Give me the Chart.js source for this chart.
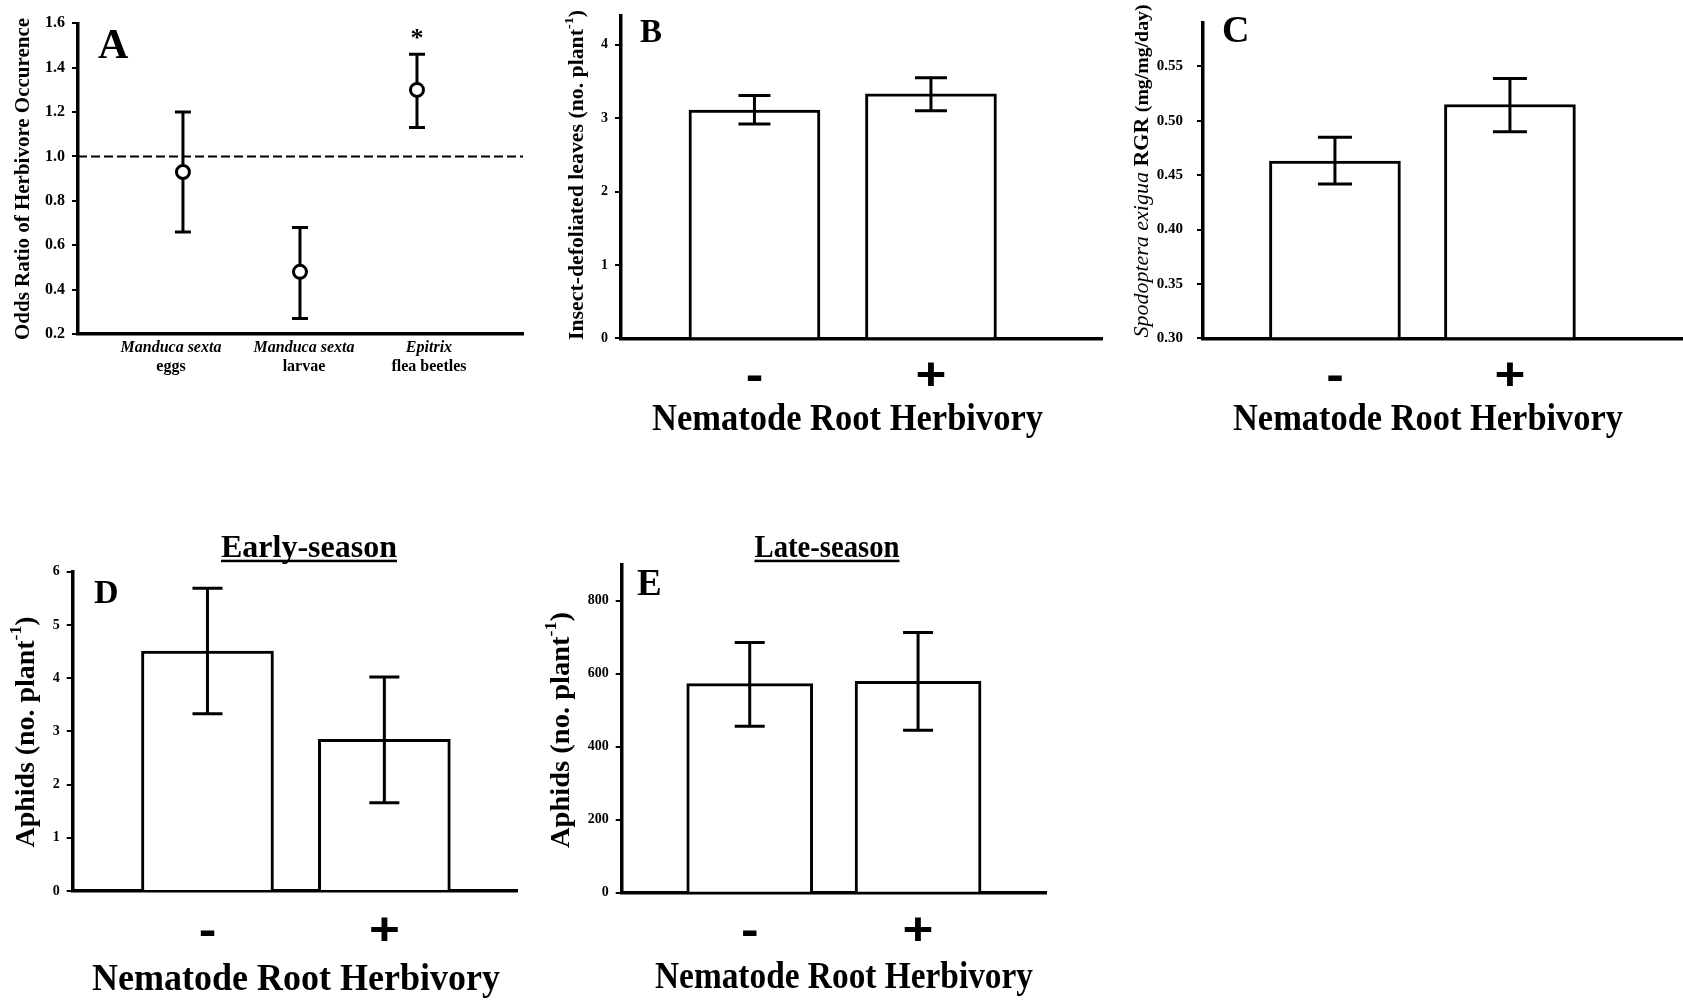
<!DOCTYPE html>
<html>
<head>
<meta charset="utf-8">
<title>Herbivory panels</title>
<script src="https://cdn.jsdelivr.net/npm/chart.js@4.4.1/dist/chart.umd.min.js"></script>
<style>
  html, body { margin: 0; padding: 0; background: #fff; }
  body { width: 1683px; height: 1001px; position: relative; overflow: hidden; }
  canvas { position: absolute; }
</style>
</head>
<body>
<canvas id="panelA" width="540" height="400" style="left:0px;top:0px"></canvas>
<canvas id="panelB" width="575" height="460" style="left:540px;top:0px"></canvas>
<canvas id="panelC" width="568" height="460" style="left:1115px;top:0px"></canvas>
<canvas id="panelD" width="540" height="521" style="left:0px;top:480px"></canvas>
<canvas id="panelE" width="560" height="521" style="left:540px;top:480px"></canvas>
<script>
// A: odds ratio of herbivore occurrence (with 95% limits)
var aGroups = [['Manduca sexta', 'eggs'], ['Manduca sexta', 'larvae'], ['Epitrix', 'flea beetles']];
var aOdds = [0.93, 0.48, 1.30];
var aUpper = [1.20, 0.68, 1.46];
var aLower = [0.66, 0.27, 1.13];
var aSig = ['', '', '*'];
var aNoEffect = 1.0;

// B-E: nematode root herbivory absent / present
var nematode = ['-', '+'];
var bLeaves = [3.11, 3.33];
var bUpper = [3.31, 3.55];
var bLower = [2.92, 3.10];

var cRGR = [0.463, 0.515];
var cUpper = [0.485, 0.539];
var cLower = [0.442, 0.490];

var dAphids = [4.51, 2.85];
var dUpper = [5.69, 4.02];
var dLower = [3.33, 1.66];

var eAphids = [573, 579];
var eUpper = [686, 713];
var eLower = [456, 445];

var SERIF = '"Liberation Serif", "Times New Roman", serif';
var SANS = '"Liberation Sans", Arial, sans-serif';

function font(size, style) {
	return (style || 'bold') + ' ' + size + 'px ' + SERIF;
}

//draw a row of text runs (mixed fonts, superscripts), optionally rotated
function drawRuns(ctx, runs, x, y, o) {
	o = o || {};
	ctx.save();
	ctx.translate(x, y);
	if (o.rotate) ctx.rotate(-Math.PI / 2);
	var total = 0;
	runs.forEach(function(r) {
		ctx.font = r.font;
		r.w = ctx.measureText(r.text).width;
		total += r.w;
	});
	var sx = o.fit ? o.fit / total : (o.sx || 1);
	ctx.scale(sx, 1);
	var cur = o.align === 'left' ? 0 : -total / 2;
	ctx.fillStyle = '#000';
	ctx.textAlign = 'left';
	ctx.textBaseline = o.baseline || 'alphabetic';
	runs.forEach(function(r) {
		ctx.font = r.font;
		ctx.fillText(r.text, cur, -(r.rise || 0));
		cur += r.w;
	});
	ctx.restore();
	return total * sx;
}

function drawErrorBars(chart, upper, lower, cap, lw) {
	var ctx = chart.ctx, xs = chart.scales.x, ys = chart.scales.y;
	ctx.save();
	ctx.strokeStyle = '#000';
	ctx.lineWidth = lw;
	for (var i = 0; i < upper.length; i++) {
		var px = xs.getPixelForValue(i + 1);
		var top = ys.getPixelForValue(upper[i]);
		var bot = ys.getPixelForValue(lower[i]);
		ctx.beginPath();
		ctx.moveTo(px, top); ctx.lineTo(px, bot);
		ctx.moveTo(px - cap / 2, top); ctx.lineTo(px + cap / 2, top);
		ctx.moveTo(px - cap / 2, bot); ctx.lineTo(px + cap / 2, bot);
		ctx.stroke();
	}
	ctx.restore();
}

//shared axis setup: chart area pinned to the given box inside the canvas
function baseOptions(cw, ch, area, xr, ya) {
	return {
		responsive: false,
		animation: false,
		devicePixelRatio: 1,
		layout: { padding: { left: 0, top: area.top, right: cw - area.right, bottom: 0 } },
		plugins: { legend: { display: false }, tooltip: { enabled: false } },
		scales: {
			x: {
				type: 'linear', min: xr.min, max: xr.max, z: 1, offset: false,
				ticks: { display: false },
				grid: { display: false, offset: false },
				border: { display: true, color: '#000', width: 3.5 },
				afterFit: function(s) { s.height = ch - area.bottom; }
			},
			y: {
				min: ya.min, max: ya.max,
				ticks: {
					stepSize: ya.step, includeBounds: false, color: '#000', padding: ya.pad,
					font: { family: SERIF, weight: 'bold', size: ya.font },
					callback: function(v) { return Number(v).toFixed(ya.dec); }
				},
				grid: { display: true, drawOnChartArea: false, drawTicks: true, tickLength: 6, lineWidth: 2, tickWidth: 2, tickColor: '#000' },
				border: { display: true, color: '#000', width: 3.5 },
				afterFit: function(s) { s.width = area.left; }
			}
		}
	};
}

//panel A: point estimates with limits and the no-effect line
new Chart(document.getElementById('panelA'), {
	type: 'scatter',
	data: {
		datasets: [{
			data: aOdds.map(function(v, i) { return { x: i + 1, y: v }; }),
			pointRadius: 6.5,
			pointBorderWidth: 3,
			pointBackgroundColor: '#fff',
			pointBorderColor: '#000',
			showLine: false
		}]
	},
	options: baseOptions(540, 400, { left: 78, top: 23.3, right: 523, bottom: 334 },
		{ min: 0.103, max: 3.906 }, { min: 0.2, max: 1.6, step: 0.2, dec: 1, font: 16, pad: 7 }),
	plugins: [{
		id: 'oddsExtras',
		beforeDatasetsDraw: function(chart) {
			var ctx = chart.ctx, a = chart.chartArea;
			var yRef = chart.scales.y.getPixelForValue(aNoEffect);
			ctx.save();
			ctx.strokeStyle = '#000';
			ctx.lineWidth = 2;
			ctx.setLineDash([9, 4]);
			ctx.beginPath();
			ctx.moveTo(a.left, yRef); ctx.lineTo(a.right, yRef);
			ctx.stroke();
			ctx.restore();
			drawErrorBars(chart, aUpper, aLower, 16, 3);
		},
		afterDraw: function(chart) {
			var ctx = chart.ctx, xs = chart.scales.x, ys = chart.scales.y;
			var shift = [-12, 4, 12];
			drawRuns(ctx, [{ text: 'A', font: font(42) }], 98, 58, { align: 'left' });
			drawRuns(ctx, [{ text: 'Odds Ratio of Herbivore Occurence', font: font(22) }], 23, 179,
				{ rotate: true, baseline: 'middle', fit: 322 });
			aGroups.forEach(function(g, i) {
				var px = xs.getPixelForValue(i + 1) + shift[i];
				drawRuns(ctx, [{ text: g[0], font: font(16, 'italic bold') }], px, 348, { baseline: 'middle' });
				drawRuns(ctx, [{ text: g[1], font: font(16) }], px, 367, { baseline: 'middle' });
				if (aSig[i]) {
					drawRuns(ctx, [{ text: aSig[i], font: font(26) }], xs.getPixelForValue(i + 1),
						ys.getPixelForValue(aUpper[i]) - 8, {});
				}
			});
		}
	}]
});

//panels B-E: open bars with error bars
function makeBarPanel(p) {
	return new Chart(document.getElementById(p.id), {
		type: 'bar',
		data: {
			datasets: [{
				data: p.means.map(function(v, i) { return { x: i + 1, y: v }; }),
				base: p.yAxis.min,
				backgroundColor: '#fff',
				borderColor: '#000',
				borderWidth: 3,
				borderSkipped: 'start',
				barThickness: p.barWidth
			}]
		},
		options: baseOptions(p.w, p.h, p.area, p.xRange, p.yAxis),
		plugins: [{
			id: 'barExtras',
			afterDatasetsDraw: function(chart) {
				drawErrorBars(chart, p.upper, p.lower, p.cap, 3);
			},
			afterDraw: function(chart) {
				var ctx = chart.ctx, xs = chart.scales.x;
				var t = p.text;
				drawRuns(ctx, [{ text: t.letter[0], font: font(t.letter[3]) }], t.letter[1], t.letter[2], { align: 'left' });
				drawRuns(ctx, t.yTitle, t.yPos[0], t.yPos[1], { rotate: true, baseline: 'middle', fit: t.yPos[2] });
				nematode.forEach(function(s, i) {
					drawRuns(ctx, [{ text: s, font: 'bold 46px ' + SANS }], xs.getPixelForValue(i + 1), t.signY,
						{ baseline: 'middle', sx: 1.15 });
				});
				drawRuns(ctx, [{ text: 'Nematode Root Herbivory', font: font(38) }], t.xTitle[0], t.xTitle[1], { fit: t.xTitle[2] });
				if (t.season) {
					var w = drawRuns(ctx, [{ text: t.season[0], font: font(32) }], t.season[1], t.season[2], { fit: t.season[3] });
					ctx.fillStyle = '#000';
					ctx.fillRect(t.season[1] - w / 2, t.season[2] + 3, w, 2.5);
				}
			}
		}]
	});
}

function perPlant(size, sup) {
	return [
		{ text: 'Aphids (no. plant', font: font(size) },
		{ text: '-1', font: font(sup), rise: size * 0.4 },
		{ text: ')', font: font(size) }
	];
}

makeBarPanel({
	id: 'panelB', w: 575, h: 460,
	area: { left: 81, top: 8, right: 562, bottom: 338.3 },
	xRange: { min: 0.244, max: 2.969 },
	yAxis: { min: 0, max: 4.4, step: 1, dec: 0, font: 14, pad: 7 },
	means: bLeaves, upper: bUpper, lower: bLower,
	barWidth: 131, cap: 32,
	text: {
		letter: ['B', 100, 42, 33],
		yTitle: [
			{ text: 'Insect-defoliated leaves (no. plant', font: font(20) },
			{ text: '-1', font: font(13), rise: 8 },
			{ text: ')', font: font(20) }
		],
		yPos: [38, 175, 330],
		signY: 377,
		xTitle: [307.5, 430, 391]
	}
});

makeBarPanel({
	id: 'panelC', w: 568, h: 460,
	area: { left: 88, top: 5, right: 568, bottom: 338.3 },
	xRange: { min: 0.246, max: 2.989 },
	yAxis: { min: 0.30, max: 0.59, step: 0.05, dec: 2, font: 15, pad: 14 },
	means: cRGR, upper: cUpper, lower: cLower,
	barWidth: 131, cap: 34,
	text: {
		letter: ['C', 107, 42, 38],
		yTitle: [
			{ text: 'Spodoptera exigua ', font: font(20, 'italic') },
			{ text: 'RGR ', font: font(20) },
			{ text: '(mg/mg/day)', font: font(18) }
		],
		yPos: [28, 171, 333],
		signY: 377,
		xTitle: [313, 430, 390]
	}
});

makeBarPanel({
	id: 'panelD', w: 540, h: 521,
	area: { left: 72.7, top: 91.7, right: 517.7, bottom: 411 },
	xRange: { min: 0.238, max: 2.754 },
	yAxis: { min: 0, max: 6, step: 1, dec: 0, font: 14, pad: 7 },
	means: dAphids, upper: dUpper, lower: dLower,
	barWidth: 132, cap: 30,
	text: {
		letter: ['D', 94, 123, 34],
		yTitle: perPlant(27, 17),
		yPos: [27, 252, 231],
		signY: 452,
		xTitle: [296, 510, 408],
		season: ['Early-season', 309, 76.7, 176]
	}
});

makeBarPanel({
	id: 'panelE', w: 560, h: 521,
	area: { left: 81.7, top: 84.3, right: 506, bottom: 412.7 },
	xRange: { min: 0.2395, max: 2.76 },
	yAxis: { min: 0, max: 900, step: 200, dec: 0, font: 14, pad: 7 },
	means: eAphids, upper: eUpper, lower: eLower,
	barWidth: 126, cap: 30,
	text: {
		letter: ['E', 97, 115, 37],
		yTitle: perPlant(27, 17),
		yPos: [22, 250, 236],
		signY: 452,
		xTitle: [304, 508, 378],
		season: ['Late-season', 287, 76.7, 145]
	}
});
</script>
</body>
</html>
